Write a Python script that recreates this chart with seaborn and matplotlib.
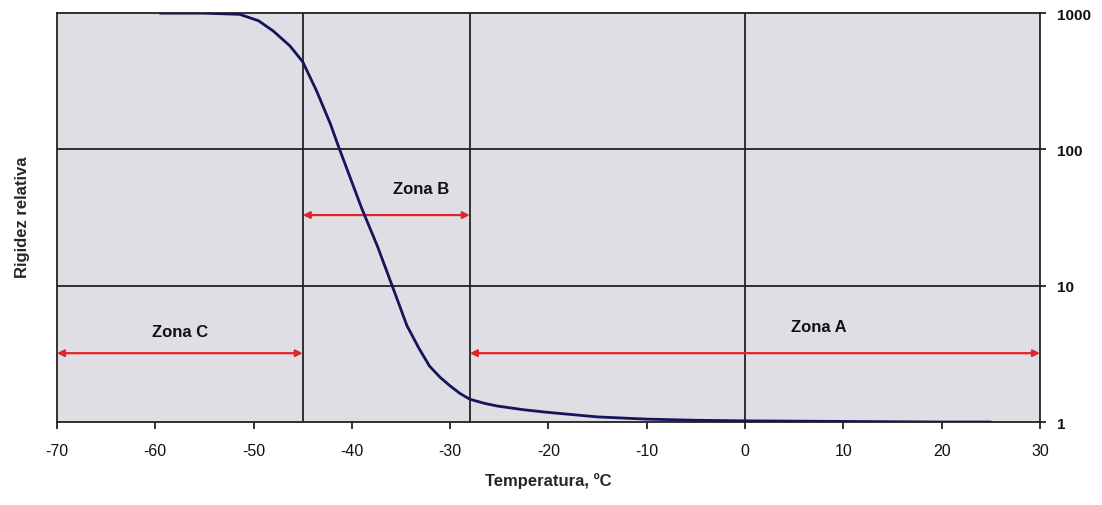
import numpy as np
import pandas as pd
import matplotlib
matplotlib.use("Agg")
import matplotlib.pyplot as plt
import matplotlib.ticker as mticker
import seaborn as sns

# ── Data ────────────────────────────────────────────────────────────────────
temperatura = [-59.5, -55, -51.4, -49.5, -48.0, -46.3, -45.0, -43.6, -42.2,
               -41.4, -39.0, -37.4, -35.9, -34.4, -33.2, -32.1, -31.0, -30.0,
               -29.0, -28.0, -26.5, -25.2, -22.5, -20.2, -15, -10, -5, 0,
               10, 20, 25]
rigidez = [1000, 1000, 980, 880, 740, 575, 440, 270, 155,
           107, 37, 19.5, 10, 5.1, 3.5, 2.57, 2.12, 1.84,
           1.62, 1.47, 1.37, 1.31, 1.23, 1.18, 1.09, 1.05, 1.03, 1.02,
           1.01, 1.0, 1.0]

zone_bounds = [-45, -28, 0]
zones = [
    ("Zona C", -70, -45, 3.2, -57.5, 4.6),
    ("Zona B", -45, -28, 33, -33.0, 52),
    ("Zona A", -28, 30, 3.2, 7.5, 5.0),
]
x_ticks = list(range(-70, 31, 10))
y_ticks = [1, 10, 100, 1000]

BG = "#DEDEE4"
RED = "#E0262B"
NAVY = "#15155A"

sns.set_style("white")
plt.rcParams["font.family"] = ["Liberation Sans", "DejaVu Sans"]

fig = plt.figure(figsize=(11.02, 5.06), dpi=100)
ax = fig.add_axes([0.0517, 0.164, 0.892, 0.808])
ax.set_facecolor(BG)

df = pd.DataFrame({"T": temperatura, "R": rigidez})
sns.lineplot(data=df, x="T", y="R", ax=ax, color=NAVY, lw=2.0, zorder=4)

ax.set_yscale("log")
ax.set_xlim(-70, 30)
ax.set_ylim(1, 1000)

# grid-like reference lines
for x in zone_bounds:
    ax.axvline(x, color="#222222", lw=1.3, zorder=2)
for y in [10, 100]:
    ax.axhline(y, color="#222222", lw=1.3, zorder=2)

# zone arrows and labels
for name, x0, x1, y, tx, ty in zones:
    ax.annotate("", xy=(x1, y), xytext=(x0, y),
                arrowprops=dict(arrowstyle="<|-|>", color=RED, lw=1.6,
                                mutation_scale=10, shrinkA=0, shrinkB=0),
                zorder=3)
    ax.text(tx, ty, name, ha="center", va="center", fontsize=12,
            fontweight="bold", color="#111111", zorder=5)

ax.set_xticks(x_ticks)
ax.set_xticklabels([str(t) for t in x_ticks], fontsize=11.5)
ax.yaxis.tick_right()
ax.set_yticks(y_ticks)
ax.set_yticklabels([str(t) for t in y_ticks], fontsize=11, fontweight="bold")
ax.yaxis.set_minor_locator(mticker.NullLocator())
ax.tick_params(axis="x", bottom=True, direction="out", length=5, width=1.2,
               pad=10, colors="#111111")
ax.tick_params(axis="y", right=True, left=False, direction="out", length=4,
               width=1.2, pad=8, colors="#111111")

for s in ax.spines.values():
    s.set_color("#222222")
    s.set_linewidth(1.3)

ax.set_xlabel("Temperatura, ºC", fontsize=12, fontweight="bold", labelpad=10)
ax.set_ylabel("")
fig.text(0.02, 0.57, "Rigidez relativa", rotation=90, ha="center", va="center",
         fontsize=12, fontweight="bold")

plt.savefig("out.png", dpi=100)
plt.close()
